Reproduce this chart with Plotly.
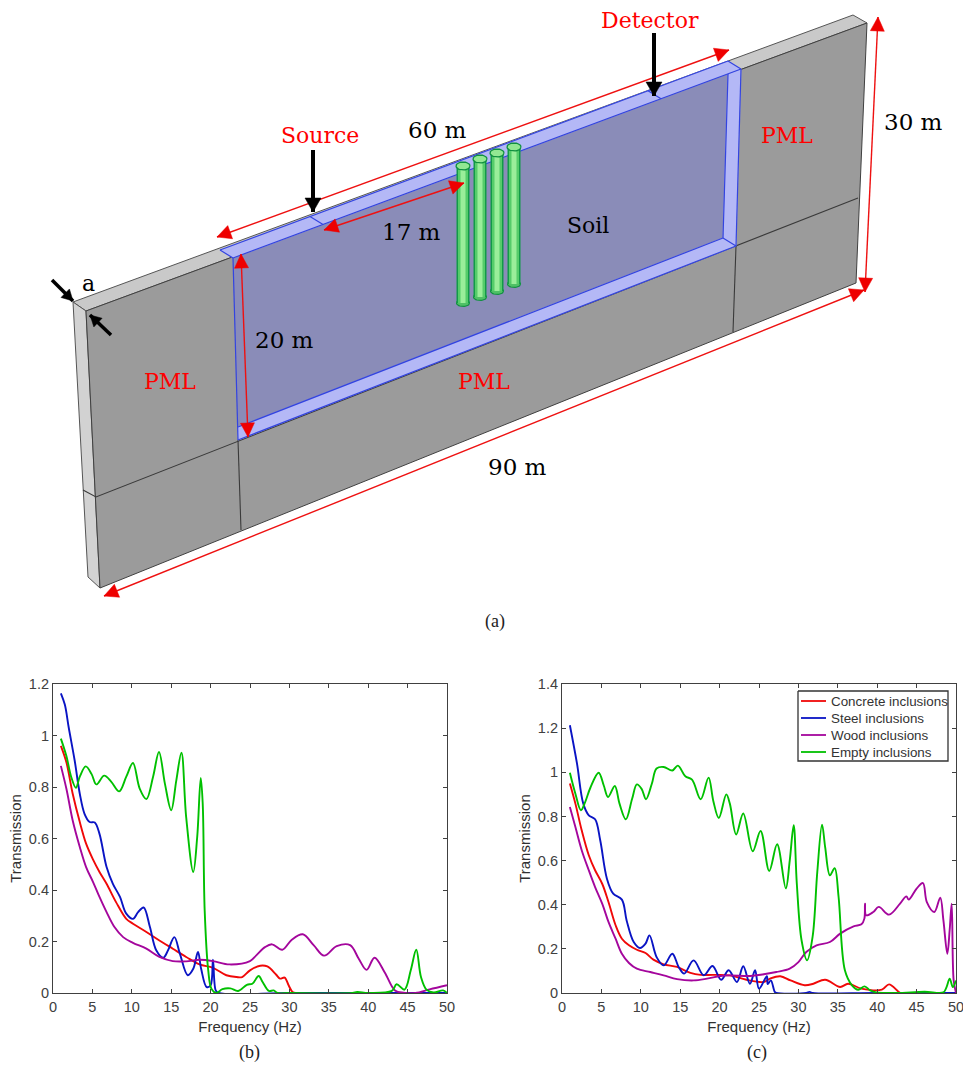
import numpy as np
import plotly.graph_objects as go

# ---------- panel (b) data ----------
b_red_f = [1,1.7,2.5,3.4,4.2,5.1,5.9,6.8,8,9.3,10.15,11.85,13.5,15.2,16.9,18.6,20.3,22,23.3,24,25,26.3,27.2,28.3,28.8,29.4,29.9,30.4,31,40,50]
b_red_v = [.96,.896,.774,.664,.58,.517,.47,.424,.353,.288,.269,.237,.204,.172,.14,.111,.098,.069,.062,.062,.088,.106,.103,.072,.056,.06,.03,.004,0,0,0]
b_blue_f = [1,1.5,2,2.75,3.4,4,4.65,5.3,5.9,6.8,7.6,8.5,9.3,10.15,10.8,11.5,12.3,13.1,14,14.6,15.4,16.1,17.1,17.8,18.4,18.8,19.5,20,20.3,20.65,21,30,40,50]
b_blue_v = [1.164,1.12,1.03,.903,.774,.696,.664,.662,.618,.489,.424,.373,.308,.288,.314,.332,.256,.166,.137,.166,.217,.153,.069,.094,.159,.094,.023,.03,.129,.01,0,0,0,0]
b_mag_f = [1,1.7,2.5,3.4,4.2,5.1,5.9,6.8,7.8,8.9,10.15,11.85,13.5,15.2,16.9,18.6,20.3,22.4,25,25.8,26.9,27.8,29.1,30.3,31.7,33.1,34.4,36,37.7,38.8,39.8,40.8,42.1,43.4,44.5,46,47.8,50]
b_mag_v = [.882,.793,.67,.567,.489,.43,.373,.314,.256,.217,.195,.172,.14,.124,.123,.129,.124,.111,.124,.146,.178,.189,.168,.207,.228,.185,.145,.182,.186,.133,.09,.137,.08,.01,.001,0,.014,.03]
b_grn_f = [1,1.7,2.3,2.9,3.4,4.15,4.9,5.5,6.5,7.4,8.4,9.3,10.15,11,11.85,12.7,13.45,14.2,15,15.65,16.3,16.9,17.8,18.3,18.75,19,19.25,19.7,20.1,20.7,21.5,22.5,23.5,24.6,25.3,26.1,26.6,27.4,28,28.5,30,38,38.6,40,43,43.6,44.6,45.4,46.1,46.7,47.4,48.3,49.5,50]
b_grn_v = [.988,.92,.84,.797,.84,.88,.85,.81,.844,.82,.783,.84,.893,.794,.753,.84,.936,.813,.71,.826,.933,.683,.47,.606,.835,.735,.32,.088,.017,0,.015,.018,.008,.032,.036,.066,.043,.008,.01,0,0,0,.004,0,.008,.034,.013,.088,.168,.062,.013,.002,.01,0]

# ---------- panel (c) data ----------
c_red_f = [1,1.7,2.5,3.4,4.2,5.1,5.9,6.8,7.6,8.5,9.5,10.6,11.6,12.9,14.6,16.3,17.6,19.2,21.3,23.4,25.6,26.4,27.7,29,30.8,31.9,33.4,35.3,36.3,38,40.6,41.5,42.7,43,46,50]
c_red_v = [.949,.858,.737,.624,.556,.495,.412,.307,.246,.216,.196,.181,.151,.13,.118,.091,.082,.082,.08,.06,.05,.065,.076,.057,.035,.042,.06,.027,.042,.02,.015,.039,.006,0,0,0]
c_blue_f = [1,1.9,2.7,3.4,4.2,4.85,5.7,6.5,7.6,8.2,9.1,9.9,10.6,11.1,12,12.9,14,14.8,15.5,16.7,18,19.1,20.2,21.15,22.2,23,23.85,24.5,25,26,26.1,26.5,27,27.2,31,31.4,31.8,40,50]
c_blue_v = [1.213,1.04,.858,.805,.787,.692,.518,.45,.423,.329,.231,.204,.224,.261,.163,.125,.178,.118,.088,.148,.08,.122,.06,.103,.05,.121,.042,.103,.02,.076,.04,.057,.005,0,0,.005,0,0,0]
c_mag_f = [1,1.7,2.5,3.4,4.2,5.1,5.9,6.8,7.6,8.5,9.5,11.2,12.9,14.6,16.7,18.4,20.1,21.3,23.9,25.6,27.2,28.9,30,31,32.3,34,35.3,37,38,38.37,38.45,38.6,39.5,40.2,41.5,42.9,43.7,44,45,45.8,46.3,47.25,48,48.4,48.9,49.2,49.45,49.7,50]
c_mag_v = [.843,.752,.647,.556,.48,.405,.322,.246,.178,.136,.11,.095,.08,.063,.057,.065,.077,.08,.077,.085,.095,.11,.14,.186,.216,.231,.269,.302,.311,.337,.405,.352,.367,.39,.355,.405,.438,.423,.473,.498,.412,.367,.432,.33,.178,.287,.405,.058,0]
c_grn_f = [1,1.7,2.4,2.95,3.6,4.65,5.3,5.85,6.7,7.3,8.1,8.9,9.5,10.1,10.66,11.4,12,12.9,14,14.7,15.65,16.5,17.6,18.6,19.2,19.9,20.85,21.3,22.1,23,24.2,25.2,26.3,27.3,28.4,28.9,29.4,29.8,30.4,31.1,31.8,32.4,33,33.4,34,34.6,35.1,35.9,36.8,37.6,38.4,39.1,39.9,42.5,46,48.4,48.8,49.2,49.6,50]
c_grn_v = [.998,.903,.828,.866,.93,.998,.94,.888,.938,.858,.787,.88,.945,.925,.878,.948,1.017,1.024,1.008,1.03,.982,.967,.878,.976,.87,.793,.9,.858,.718,.813,.642,.734,.553,.674,.474,.6,.76,.495,.239,.148,.254,.55,.763,.66,.533,.566,.435,.103,.035,.015,.03,.012,.003,0,.006,.003,.027,.065,.027,.057]

series_names = ["Concrete inclusions", "Steel inclusions", "Wood inclusions", "Empty inclusions"]
series_colors = ["#f00808", "#0a14c4", "#a4069c", "#00c000"]

freq_ticks = [0,5,10,15,20,25,30,35,40,45,50]
b_y_ticks = [0,.2,.4,.6,.8,1,1.2]
b_y_labels = ["0","0.2","0.4","0.6","0.8","1","1.2"]
c_y_ticks = [0,.2,.4,.6,.8,1,1.2,1.4]
c_y_labels = ["0","0.2","0.4","0.6","0.8","1","1.2","1.4"]

# ---------- panel (a) diagram, in picture units ----------
top_face = [(73,302),(853,15),(867,23),(86,311)]
left_face = [(73,302),(86,311),(100,588),(88,577)]
front_face = [(86,311),(867,23),(856,283),(100,588)]
soil_face = [(233,258),(728,74),(723,238),(238,427)]
strip_top = [(220,250),(233,258),(741,69),(728,61)]
strip_right = [(728,74),(741,69),(736,246),(723,238)]
strip_bottom = [(238,427),(723,238),(736,246),(238,440)]
grid_lines = [[(83,490),(96,497),(858,198)], [(238,440),(241,530)], [(736,246),(733,332)]]
blue_lines = [[(233,258),(238,440)], [(741,69),(736,246)], [(220,250),(728,61)], [(233,258),(741,69)],
              [(238,440),(736,246)], [(238,427),(723,238)], [(728,61),(741,69)], [(220,250),(233,258)],
              [(728,74),(723,238)], [(723,238),(736,246)], [(310,216.5),(323,224.5)], [(648,90.8),(661,98.8)]]
cyl_top_x = [463,480,497,514]
cyl_top_y = [166,159,153,147]
cyl_bot_y = [303,297,291,284]
red_arrows = [[(217,237),(729,50),2],[(104,596),(864,290),2],[(878,17),(865,292),2],
              [(241,254),(248,437),2],[(324,230),(464,183),2]]
black_arrows = [[(313,150),(313,212)],[(654,33),(654,96)],[(52,280),(73,301)],[(111,335),(90,315)]]
labels = [("Source",320,135,"red",22),("Detector",650,20,"red",22),("PML",170,381,"red",22),
          ("PML",484,381,"red",22),("PML",787,135,"red",22),("60 m",437,130,"black",23),
          ("17 m",411,232,"black",23),("Soil",588,225,"black",22),("30 m",913,122,"black",23),
          ("20 m",284,340,"black",23),("90 m",517,467,"black",23),("a",88,283,"black",22)]
captions = [("(a)",495,621),("(b)",249,1052),("(c)",757,1052)]

# legend box and rows, in picture units
legend_box = [(798,691),(948,691),(948,761),(798,761)]
legend_row_y = [701,718,735,752]
legend_sample_x = (801,826)
legend_text_x = 829

fig = go.Figure()

def poly(pts, fill, line="#404040", w=1.0):
    xs = [p[0] for p in pts] + [pts[0][0]]
    ys = [p[1] for p in pts] + [pts[0][1]]
    fig.add_trace(go.Scatter(x=xs, y=ys, mode="lines", fill="toself", fillcolor=fill,
                             line=dict(color=line, width=w), xaxis="x", yaxis="y",
                             showlegend=False, hoverinfo="skip"))

def path(pts, color, w):
    fig.add_trace(go.Scatter(x=[p[0] for p in pts], y=[p[1] for p in pts], mode="lines",
                             line=dict(color=color, width=w), xaxis="x", yaxis="y",
                             showlegend=False, hoverinfo="skip"))

def head(tip, tail, color, length, half):
    t, s = np.array(tip, float), np.array(tail, float)
    d = (t - s) / np.linalg.norm(t - s)
    n = np.array([-d[1], d[0]])
    b = t - d * length
    poly([tuple(t), tuple(b + n * half), tuple(b - n * half)], color, color, 0.5)

def ellipse(cx, cy, rx, ry, fill, line, w):
    a = np.linspace(0, 2*np.pi, 37)
    poly(list(zip(cx + rx*np.cos(a), cy + ry*np.sin(a))), fill, line, w)

poly(top_face, "#c9c9c9", "#555555")
poly(left_face, "#d2d2d2", "#555555")
poly(front_face, "#9b9b9b", "#404040")
for g in grid_lines:
    path(g, "#3a3a3a", 1.1)
poly(soil_face, "#8a8cb8", "#8a8cb8", 0.5)
poly(strip_top, "#b4b8f6", "#b4b8f6", 0.5)
poly(strip_right, "#b4b8f6", "#b4b8f6", 0.5)
poly(strip_bottom, "#b4b8f6", "#b4b8f6", 0.5)
for g in blue_lines:
    path(g, "#3344e0", 1.2)

for x, yt, yb in zip(cyl_top_x, cyl_top_y, cyl_bot_y):
    ellipse(x, yb, 6.5, 3.5, "#4fc066", "#109040", 1.2)
    path([(x, yt), (x, yb)], "#129a48", 13)
    path([(x, yt), (x, yb)], "#55cc6a", 10)
    path([(x, yt), (x, yb)], "#9aee9a", 5)
    ellipse(x, yt, 7, 4, "#92e892", "#109040", 1.3)
for a, b, sides in red_arrows:
    path([a, b], "#ee1111", 1.4)
    head(b, a, "#ee0000", 14, 7)
    head(a, b, "#ee0000", 14, 7)
for a, b in black_arrows:
    long_arrow = abs(a[1] - b[1]) > 40
    path([a, b], "black", 4 if long_arrow else 3.5)
    head(b, a, "black", 14 if long_arrow else 11, 8 if long_arrow else 6)

# ---------- line charts ----------
line_style = dict(width=1.9, shape="spline", smoothing=1.0)
for f, v, name, col in zip([b_red_f, b_blue_f, b_mag_f, b_grn_f],
                           [b_red_v, b_blue_v, b_mag_v, b_grn_v], series_names, series_colors):
    fig.add_trace(go.Scatter(x=f, y=v, mode="lines", name=name, showlegend=False, xaxis="x2", yaxis="y2",
                             line=dict(color=col, **line_style)))
for f, v, name, col in zip([c_red_f, c_blue_f, c_mag_f, c_grn_f],
                           [c_red_v, c_blue_v, c_mag_v, c_grn_v], series_names, series_colors):
    fig.add_trace(go.Scatter(x=f, y=v, mode="lines", name=name, showlegend=False, xaxis="x3", yaxis="y3",
                             line=dict(color=col, **line_style)))

# legend of panel (c)
poly(legend_box, "white", "#333333", 1.3)
for ry, col in zip(legend_row_y, series_colors):
    path([(legend_sample_x[0], ry), (legend_sample_x[1], ry)], col, 1.8)

W, H = 963, 1070
axis_font = dict(family="Liberation Sans", size=14.5, color="#404040")
title_font = dict(family="Liberation Sans", size=15, color="#303030")
def x_axis(l, r, anchor):
    return dict(domain=[l/W, r/W], range=[0,50], tickvals=freq_ticks, ticks="inside", ticklen=4, tickwidth=1,
                tickcolor="#404040", showline=True, linecolor="#404040", linewidth=1.2, mirror="allticks",
                showgrid=False, zeroline=False, tickfont=axis_font, anchor=anchor, automargin=False,
                ticklabeloverflow="allow", title=dict(text="Frequency (Hz)", font=title_font, standoff=7))
def y_axis(top, anchor, tv, tl):
    return dict(domain=[1-993/H, 1-684/H], range=[0,top], tickvals=tv, ticktext=tl, ticks="inside", ticklen=4, tickwidth=1,
                tickcolor="#404040", showline=True, linecolor="#404040", linewidth=1.2, mirror="allticks",
                showgrid=False, zeroline=False, tickfont=axis_font, anchor=anchor, automargin=False,
                ticklabeloverflow="allow", title=dict(text="Transmission", font=title_font, standoff=3))

annotations = [dict(text=t, x=x, y=y, xref="x", yref="y", showarrow=False,
                    font=dict(family="DejaVu Serif", size=s, color=c)) for t, x, y, c, s in labels]
annotations += [dict(text=t, x=x, y=y, xref="x", yref="y", showarrow=False,
                     font=dict(family="Liberation Serif", size=18, color="#222222")) for t, x, y in captions]
annotations += [dict(text=t, x=legend_text_x, y=ry, xref="x", yref="y", xanchor="left", showarrow=False,
                     font=dict(family="Liberation Sans", size=13.4, color="#333333"))
                for t, ry in zip(series_names, legend_row_y)]

fig.update_layout(
    width=W, height=H, autosize=False, margin=dict(l=0, r=0, t=0, b=0, pad=0),
    paper_bgcolor="white", plot_bgcolor="rgba(0,0,0,0)", showlegend=False,
    xaxis=dict(domain=[0,1], range=[0,W], visible=False, anchor="y", automargin=False),
    yaxis=dict(domain=[0,1], range=[H,0], visible=False, anchor="x", automargin=False),
    xaxis2=x_axis(53, 447, "y2"), yaxis2=y_axis(1.2, "x2", b_y_ticks, b_y_labels),
    xaxis3=x_axis(562, 956, "y3"), yaxis3=y_axis(1.4, "x3", c_y_ticks, c_y_labels),
    annotations=annotations,
)
fig.write_html("out.html", post_script="document.body.style.margin='0';", config={"displayModeBar": False})
